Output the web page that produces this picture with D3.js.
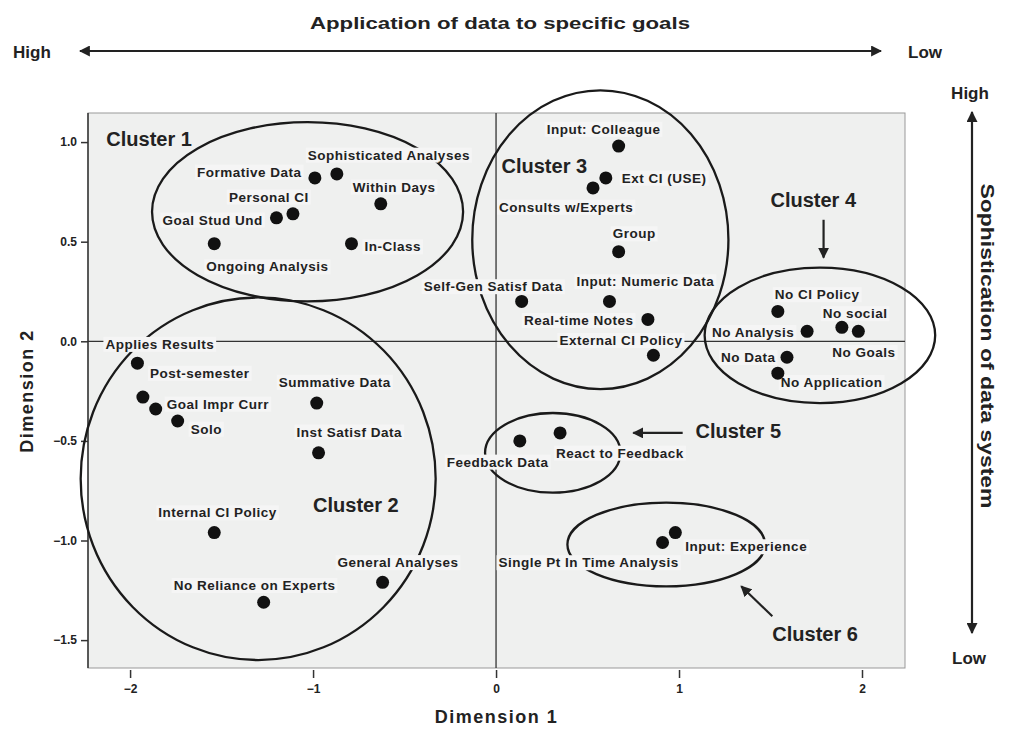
<!DOCTYPE html>
<html><head><meta charset="utf-8">
<script src="https://cdn.jsdelivr.net/npm/d3@7"></script>
<style>
body{margin:0;background:#fff;}
text{font-family:"Liberation Sans",Arial,Helvetica,sans-serif;fill:#222;}
</style></head><body>
<svg id="chart" width="1018" height="733"></svg>
<script>
// ---------- data ----------
const pointLabels = ["Sophisticated Analyses","Formative Data","Within Days","Personal CI","Goal Stud Und","In-Class","Ongoing Analysis",
 "Input: Colleague","Ext CI (USE)","Consults w/Experts","Group","Self-Gen Satisf Data","Input: Numeric Data","Real-time Notes","External CI Policy",
 "No CI Policy","No Analysis","No social","No Goals","No Data","No Application",
 "Applies Results","Post-semester","Goal Impr Curr","Solo","Summative Data","Inst Satisf Data","Internal CI Policy","General Analyses","No Reliance on Experts",
 "Feedback Data","React to Feedback",
 "Single Pt In Time Analysis","Input: Experience"];
const dim1 = [-0.87,-0.99,-0.63,-1.11,-1.20,-0.79,-1.54,
 0.67,0.60,0.53,0.67,0.14,0.62,0.83,0.86,
 1.54,1.70,1.89,1.98,1.59,1.54,
 -1.96,-1.93,-1.86,-1.74,-0.98,-0.97,-1.54,-0.62,-1.27,
 0.13,0.35,
 0.91,0.98];
const dim2 = [0.84,0.82,0.69,0.64,0.62,0.49,0.49,
 0.98,0.82,0.77,0.45,0.20,0.20,0.11,-0.07,
 0.15,0.05,0.07,0.05,-0.08,-0.16,
 -0.11,-0.28,-0.34,-0.40,-0.31,-0.56,-0.96,-1.21,-1.31,
 -0.50,-0.46,
 -1.01,-0.96];
const clusterNames = ["Cluster 1","Cluster 2","Cluster 3","Cluster 4","Cluster 5","Cluster 6"];
const clusterCx = [-1.03,-1.30,0.57,1.77,0.31,0.93];
const clusterCy = [0.65,-0.69,0.51,0.03,-0.56,-1.02];
const clusterRx = [0.85,0.97,0.70,0.63,0.37,0.54];
const clusterRy = [0.45,0.91,0.75,0.34,0.20,0.21];
const xTicks = [-2,-1,0,1,2];
const yTicks = [1.0,0.5,0.0,-0.5,-1.0,-1.5];

// ---------- layout (not data) ----------
const labelOffsets = [[-29,-19],[-118,-6],[-28,-17],[-64,-17],[-114,2],[13,3],[-8,23],
 [-72,-17],[16,0],[-94,19],[-6,-18],[-98,-15],[-33,-20],[-124,1],[-94,-15],
 [-3,-17],[-95,1],[-19,-14],[-26,21],[-66,0],[3,9],
 [-32,-19],[7,-24],[11,-5],[13,8],[-38,-21],[-22,-21],[-56,-20],[-45,-20],[-90,-17],
 [-73,21],[-4,20],
 [-164,20],[10,14]];
const clusterLabelPos = [[-2.13,1.015],[-1.00,-0.82],[0.03,0.88],[1.50,0.71],[1.09,-0.45],[1.51,-1.47]];
const annotArrows = [[1.79,0.61,1.79,0.42],[1.02,-0.46,0.75,-0.46],[1.51,-1.38,1.34,-1.23]];

const svg = d3.select("#chart");
const plot = {l:88, r:905, t:113, b:668};
const x = d3.scaleLinear().domain([-2.23,2.235]).range([plot.l,plot.r]);
const y = d3.scaleLinear().domain([-1.64,1.146]).range([plot.b,plot.t]);

const defs = svg.append("defs");
defs.append("marker").attr("id","ah").attr("viewBox","0 0 10 10").attr("refX",9).attr("refY",5)
  .attr("markerWidth",5).attr("markerHeight",5).attr("orient","auto-start-reverse")
  .append("path").attr("d","M0,0 L10,5 L0,10 z").attr("fill","#222");
defs.append("clipPath").attr("id","pclip").append("rect")
  .attr("x",plot.l).attr("y",plot.t).attr("width",plot.r-plot.l).attr("height",plot.b-plot.t);

// background
svg.append("rect").attr("x",plot.l).attr("y",plot.t).attr("width",plot.r-plot.l).attr("height",plot.b-plot.t)
  .attr("fill","#eff0ef").attr("stroke","#999").attr("stroke-width",1);

// reference lines
svg.append("line").attr("x1",plot.l).attr("x2",plot.r).attr("y1",y(0)).attr("y2",y(0)).attr("stroke","#333").attr("stroke-width",1.3);
svg.append("line").attr("x1",x(0)).attr("x2",x(0)).attr("y1",plot.t).attr("y2",plot.b).attr("stroke","#333").attr("stroke-width",1.3);

// axes
const yAxis = d3.axisLeft(y).tickValues(yTicks).tickFormat(d3.format(".1f")).tickSize(7).tickPadding(4);
const gy = svg.append("g").attr("transform",`translate(${plot.l},0)`).call(yAxis);
gy.select(".domain").attr("stroke","#333").attr("stroke-width",1.5).attr("d",`M0,${plot.t}V${plot.b}`);
gy.selectAll(".tick line").attr("stroke","#333").attr("stroke-width",1.5);
gy.selectAll(".tick text").style("font-size","12px").style("font-weight","bold").attr("fill","#444");

const xAxis = d3.axisBottom(x).tickValues(xTicks).tickFormat(d3.format("d")).tickSize(8).tickPadding(6);
const gx = svg.append("g").attr("transform",`translate(0,${plot.b+2})`).call(xAxis);
gx.select(".domain").remove();
gx.selectAll(".tick line").attr("stroke","#333").attr("stroke-width",1.5);
gx.selectAll(".tick text").style("font-size","12px").style("font-weight","bold").attr("fill","#444");

// ellipses
svg.append("g").selectAll("ellipse").data(clusterNames).join("ellipse")
  .attr("cx",(d,i)=>x(clusterCx[i])).attr("cy",(d,i)=>y(clusterCy[i]))
  .attr("rx",(d,i)=>x(clusterRx[i])-x(0)).attr("ry",(d,i)=>y(0)-y(clusterRy[i]))
  .attr("fill","none").attr("stroke","#1a1a1a").attr("stroke-width",2.3);

// point labels with boxes
const lg = svg.append("g").attr("clip-path","url(#pclip)");
const labelNodes = lg.selectAll("g").data(pointLabels).join("g")
  .attr("transform",(d,i)=>`translate(${x(dim1[i])+labelOffsets[i][0]},${y(dim2[i])+labelOffsets[i][1]})`);
labelNodes.append("rect").attr("class","bx");
labelNodes.append("text").text(d=>d).attr("dy","0.35em")
  .style("font-size","13.5px").style("font-weight","bold").style("letter-spacing","0.5px").attr("fill","#222");
labelNodes.each(function(){
  const g = d3.select(this); const bb = g.select("text").node().getBBox();
  g.select("rect").attr("x",bb.x-2).attr("y",bb.y).attr("width",bb.width+4).attr("height",bb.height)
    .attr("fill","#f5f5f5");
});

// dots
svg.append("g").selectAll("circle").data(pointLabels).join("circle")
  .attr("cx",(d,i)=>x(dim1[i])).attr("cy",(d,i)=>y(dim2[i])).attr("r",6.5).attr("fill","#111");

// cluster labels
svg.append("g").selectAll("text").data(clusterNames).join("text")
  .attr("x",(d,i)=>x(clusterLabelPos[i][0])).attr("y",(d,i)=>y(clusterLabelPos[i][1])).attr("dy","0.35em")
  .text(d=>d).style("font-size","20px").style("font-weight","bold").attr("fill","#222");

// annotation arrows
svg.append("g").selectAll("line").data(annotArrows).join("line")
  .attr("x1",d=>x(d[0])).attr("y1",d=>y(d[1])).attr("x2",d=>x(d[2])).attr("y2",d=>y(d[3]))
  .attr("stroke","#222").attr("stroke-width",2.2).attr("marker-end","url(#ah)");

// axis titles
svg.append("text").attr("x",(plot.l+plot.r)/2 + 0).attr("y",717).attr("dy","0.35em").attr("text-anchor","middle")
  .text("Dimension 1").style("font-size","18px").style("font-weight","bold").style("letter-spacing","1.5px");
svg.append("text").attr("transform","translate(27,391) rotate(-90)").attr("dy","0.35em").attr("text-anchor","middle")
  .text("Dimension 2").style("font-size","18px").style("font-weight","bold").style("letter-spacing","1.5px");

// top annotation
svg.append("text").attr("x",500).attr("y",23).attr("dy","0.35em").attr("text-anchor","middle")
  .text("Application of data to specific goals").style("font-size","17px").style("font-weight","bold")
  .attr("textLength",380).attr("lengthAdjust","spacingAndGlyphs");
svg.append("text").attr("x",13).attr("y",52).attr("dy","0.35em").text("High").style("font-size","17px").style("font-weight","bold");
svg.append("text").attr("x",908).attr("y",52).attr("dy","0.35em").text("Low").style("font-size","17px").style("font-weight","bold");
svg.append("line").attr("x1",80).attr("x2",881).attr("y1",51).attr("y2",51).attr("stroke","#222").attr("stroke-width",2.2)
  .attr("marker-start","url(#ah)").attr("marker-end","url(#ah)");

// right annotation
svg.append("text").attr("x",970).attr("y",93).attr("dy","0.35em").attr("text-anchor","middle").text("High").style("font-size","17px").style("font-weight","bold");
svg.append("text").attr("x",969).attr("y",658).attr("dy","0.35em").attr("text-anchor","middle").text("Low").style("font-size","17px").style("font-weight","bold");
svg.append("line").attr("x1",972).attr("x2",972).attr("y1",112).attr("y2",633).attr("stroke","#222").attr("stroke-width",2.2)
  .attr("marker-start","url(#ah)").attr("marker-end","url(#ah)");
svg.append("text").attr("transform","translate(988,346) rotate(90)").attr("dy","0.35em").attr("text-anchor","middle")
  .text("Sophistication of data system").style("font-size","19px").style("font-weight","bold")
  .attr("textLength",325).attr("lengthAdjust","spacingAndGlyphs");
</script>
</body></html>
